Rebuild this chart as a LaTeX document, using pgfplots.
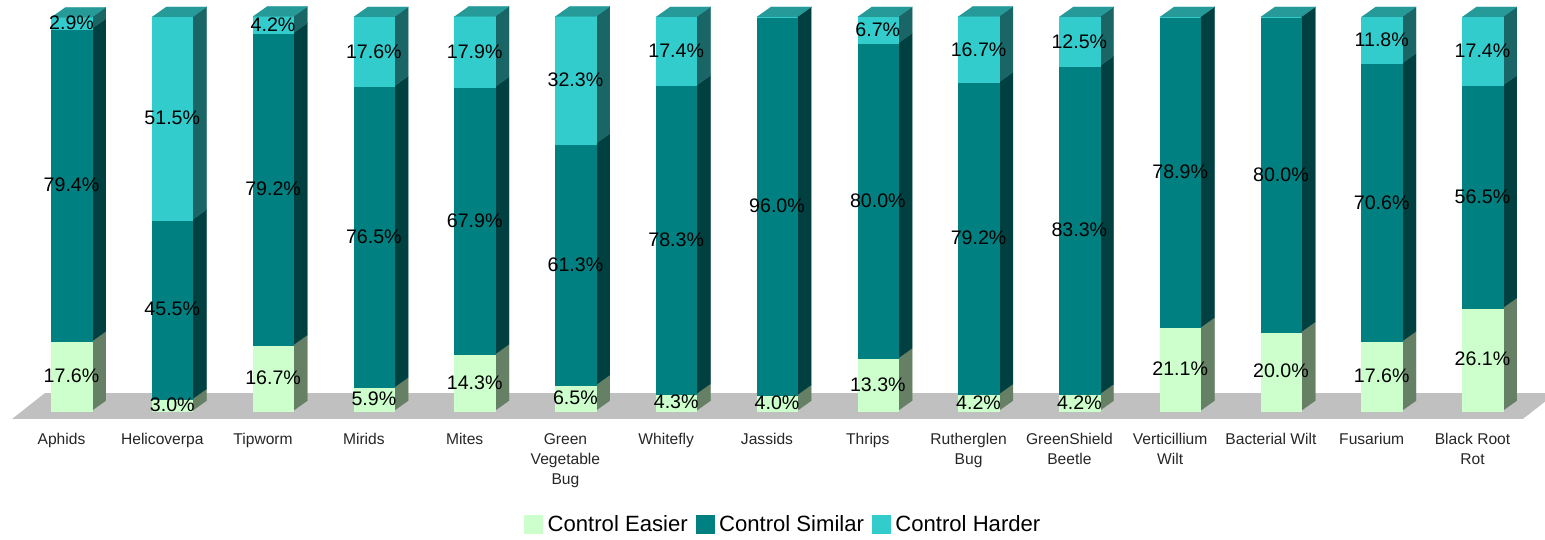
\documentclass[border=0pt]{standalone}
\usepackage{fontspec}
\setmainfont{Liberation Sans}
\usepackage{pgfplots}
\usepackage{pgfplotstable}
\pgfplotsset{compat=1.18}

\definecolor{easier}{HTML}{CCFFCC}
\definecolor{easierside}{HTML}{668066}
\definecolor{similar}{HTML}{008080}
\definecolor{similarside}{HTML}{004040}
\definecolor{harder}{HTML}{33CCCC}
\definecolor{harderside}{HTML}{1A6666}
\definecolor{hardertop}{HTML}{269999}
\definecolor{floorgrey}{HTML}{C0C0C0}

% percent of responses per category
\pgfplotstableread{
pos easier similar harder
0   17.6   79.4    2.9
1   3.0    45.5    51.5
2   16.7   79.2    4.2
3   5.9    76.5    17.6
4   14.3   67.9    17.9
5   6.5    61.3    32.3
6   4.3    78.3    17.4
7   4.0    96.0    0
8   13.3   80.0    6.7
9   4.2    79.2    16.7
10  4.2    83.3    12.5
11  21.1   78.9    0
12  20.0   80.0    0
13  17.6   70.6    11.8
14  26.1   56.5    17.4
}\datatable

% bar half width and the 3D depth, in axis units
\def\hw{0.2010}
\def\dx{0.140}
\def\dy{2.54}

% one stack segment: pos, low, high, front colour, side colour
\newcommand{\barseg}[5]{%
  \pgfmathsetmacro{\xl}{#1-\hw}%
  \pgfmathsetmacro{\xr}{#1+\hw}%
  \pgfmathsetmacro{\xb}{#1+\hw+\dx}%
  \pgfmathsetmacro{\ylo}{#2+\dy}%
  \pgfmathsetmacro{\yhi}{#3+\dy}%
  \addplot[fill=#5,draw=#5,line width=0.2pt,forget plot] coordinates {(\xr,#2) (\xb,\ylo) (\xb,\yhi) (\xr,#3)};
  \addplot[fill=#4,draw=#4,line width=0.2pt,forget plot] coordinates {(\xl,#2) (\xr,#2) (\xr,#3) (\xl,#3)};
}
% lid of a bar: pos, height
\newcommand{\barlid}[2]{%
  \pgfmathsetmacro{\xl}{#1-\hw}%
  \pgfmathsetmacro{\xr}{#1+\hw}%
  \pgfmathsetmacro{\xtl}{#1-\hw+\dx}%
  \pgfmathsetmacro{\xb}{#1+\hw+\dx}%
  \pgfmathsetmacro{\yhi}{#2+\dy}%
  \addplot[fill=hardertop,draw=hardertop,line width=0.2pt,forget plot] coordinates {(\xl,#2) (\xr,#2) (\xb,\yhi) (\xtl,\yhi)};
}

\pgfplotsset{
  seglabel/.style={
    draw=none, forget plot, point meta=explicit,
    /pgf/number format/assume math mode=true,
    nodes near coords={\pgfmathprintnumber[fixed,fixed zerofill,precision=1]{\pgfplotspointmeta}\%},
    every node near coord/.append style={anchor=center,inner sep=0pt,outer sep=0pt,
      font=\fontsize{19.6}{20}\selectfont,text=black},
  },
}

\begin{document}
\begin{tikzpicture}
\begin{axis}[
  scale only axis, width=1545pt, height=420pt,
  xmin=-0.7094, xmax=14.620, ymin=-2.388, ymax=104.29,
  axis line style={draw=none}, tick style={draw=none},
  ytick=\empty, xtick={0,...,14},
  xticklabels={Aphids,Helicoverpa,Tipworm,Mirids,Mites,Green\\Vegetable\\Bug,Whitefly,Jassids,Thrips,Rutherglen\\Bug,GreenShield\\Beetle,Verticillium\\Wilt,Bacterial Wilt,Fusarium,Black Root\\Rot},
  xticklabel style={align=center,anchor=north,xshift=-10pt,yshift=-10pt,
    font=\fontsize{15.6}{20}\selectfont,text=black!85},
  legend style={at={(0.507,-0.2476)},anchor=center,draw=none,fill=none,
    font=\fontsize{22.1}{22}\selectfont,
    /tikz/every even column/.append style={column sep=6pt},
    /tikz/every odd column/.append style={column sep=3pt}},
  legend columns=3,
]
\addlegendimage{legend image code/.code={\fill[easier] (0pt,-9pt) rectangle (18pt,9pt);}}
\addlegendentry{Control Easier}
\addlegendimage{legend image code/.code={\fill[similar] (0pt,-9pt) rectangle (18pt,9pt);}}
\addlegendentry{Control Similar}
\addlegendimage{legend image code/.code={\fill[harder] (0pt,-9pt) rectangle (18pt,9pt);}}
\addlegendentry{Control Harder}

% floor
\addplot[fill=floorgrey,draw=none,forget plot] coordinates {(-0.590,-2.13) (-0.263,4.47) (14.73,4.47) (14.40,-2.13)};

\pgfplotsinvokeforeach{0,...,14}{
  \pgfplotstablegetelem{#1}{easier}\of\datatable \edef\va{\pgfplotsretval}
  \pgfplotstablegetelem{#1}{similar}\of\datatable \edef\vb{\pgfplotsretval}
  \pgfplotstablegetelem{#1}{harder}\of\datatable \edef\vc{\pgfplotsretval}
  \pgfmathsetmacro{\cb}{\va+\vb}
  \pgfmathsetmacro{\cc}{\va+\vb+\vc}
  \barseg{#1}{0}{\va}{easier}{easierside}
  \barseg{#1}{\va}{\cb}{similar}{similarside}
  \barseg{#1}{\cb}{\cc}{harder}{harderside}
  \barlid{#1}{\cc}
}

% value labels, centred on their segments
\addplot[seglabel] table[x=pos, y expr=\thisrow{easier}/2, meta=easier] {\datatable};
\addplot[seglabel] table[x=pos, y expr=\thisrow{easier}+\thisrow{similar}/2, meta=similar] {\datatable};
\addplot[seglabel, skip coords between index={7}{8}, skip coords between index={11}{13}]
  table[x=pos, y expr=\thisrow{easier}+\thisrow{similar}+\thisrow{harder}/2, meta=harder] {\datatable};
\end{axis}
\path (0pt,-119pt) rectangle (1545pt,420pt);
\end{tikzpicture}
\end{document}
